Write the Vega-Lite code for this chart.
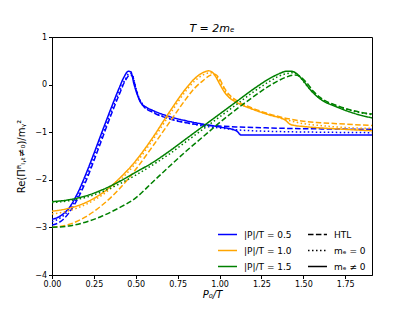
{
  "$schema": "https://vega.github.io/schema/vega-lite/v6.json",
  "width": 320,
  "height": 238,
  "autosize": "none",
  "padding": {"left": 52, "top": 37, "right": 41, "bottom": 35},
  "background": "white",
  "title": {"text": "T = 2mₑ", "fontStyle": "italic", "fontWeight": "normal", "fontSize": 11, "offset": -1, "font": "DejaVu Sans", "color": "black"},
  "config": {
    "font": "DejaVu Sans",
    "view": {"stroke": "black", "strokeWidth": 1},
    "axis": {"grid": false, "domainColor": "black", "tickColor": "black", "labelColor": "black", "titleColor": "black", "labelFontSize": 8, "titleFontSize": 10, "titleFontWeight": "normal", "tickSize": 3.5, "labelPadding": 2, "labelFlush": false}
  },
  "data": {"values": [
    {"p":"0.5","k":"mₑ ≠ 0","x":0,"y":-2.83},{"p":"0.5","k":"mₑ ≠ 0","x":0.05,"y":-2.76},{"p":"0.5","k":"mₑ ≠ 0","x":0.1,"y":-2.6},{"p":"0.5","k":"mₑ ≠ 0","x":0.15,"y":-2.3},{"p":"0.5","k":"mₑ ≠ 0","x":0.2,"y":-1.9},{"p":"0.5","k":"mₑ ≠ 0","x":0.25,"y":-1.45},{"p":"0.5","k":"mₑ ≠ 0","x":0.3,"y":-0.98},{"p":"0.5","k":"mₑ ≠ 0","x":0.35,"y":-0.52},{"p":"0.5","k":"mₑ ≠ 0","x":0.4,"y":-0.08},{"p":"0.5","k":"mₑ ≠ 0","x":0.43,"y":0.16},{"p":"0.5","k":"mₑ ≠ 0","x":0.455,"y":0.28},{"p":"0.5","k":"mₑ ≠ 0","x":0.47,"y":0.27},{"p":"0.5","k":"mₑ ≠ 0","x":0.49,"y":0.0},{"p":"0.5","k":"mₑ ≠ 0","x":0.51,"y":-0.22},{"p":"0.5","k":"mₑ ≠ 0","x":0.53,"y":-0.38},{"p":"0.5","k":"mₑ ≠ 0","x":0.56,"y":-0.47},{"p":"0.5","k":"mₑ ≠ 0","x":0.6,"y":-0.54},{"p":"0.5","k":"mₑ ≠ 0","x":0.7,"y":-0.67},{"p":"0.5","k":"mₑ ≠ 0","x":0.8,"y":-0.76},{"p":"0.5","k":"mₑ ≠ 0","x":0.9,"y":-0.83},{"p":"0.5","k":"mₑ ≠ 0","x":1.0,"y":-0.89},{"p":"0.5","k":"mₑ ≠ 0","x":1.1,"y":-0.97},{"p":"0.5","k":"mₑ ≠ 0","x":1.13,"y":-1.06},{"p":"0.5","k":"mₑ ≠ 0","x":1.3,"y":-1.06},{"p":"0.5","k":"mₑ ≠ 0","x":1.5,"y":-1.06},{"p":"0.5","k":"mₑ ≠ 0","x":1.7,"y":-1.06},{"p":"0.5","k":"mₑ ≠ 0","x":1.91,"y":-1.06},
    {"p":"0.5","k":"HTL","x":0,"y":-2.95},{"p":"0.5","k":"HTL","x":0.05,"y":-2.88},{"p":"0.5","k":"HTL","x":0.1,"y":-2.7},{"p":"0.5","k":"HTL","x":0.15,"y":-2.42},{"p":"0.5","k":"HTL","x":0.2,"y":-2.05},{"p":"0.5","k":"HTL","x":0.25,"y":-1.6},{"p":"0.5","k":"HTL","x":0.3,"y":-1.13},{"p":"0.5","k":"HTL","x":0.35,"y":-0.66},{"p":"0.5","k":"HTL","x":0.4,"y":-0.22},{"p":"0.5","k":"HTL","x":0.44,"y":0.1},{"p":"0.5","k":"HTL","x":0.465,"y":0.2},{"p":"0.5","k":"HTL","x":0.48,"y":0.18},{"p":"0.5","k":"HTL","x":0.5,"y":-0.08},{"p":"0.5","k":"HTL","x":0.52,"y":-0.3},{"p":"0.5","k":"HTL","x":0.55,"y":-0.47},{"p":"0.5","k":"HTL","x":0.6,"y":-0.58},{"p":"0.5","k":"HTL","x":0.7,"y":-0.72},{"p":"0.5","k":"HTL","x":0.8,"y":-0.8},{"p":"0.5","k":"HTL","x":0.9,"y":-0.85},{"p":"0.5","k":"HTL","x":1.0,"y":-0.87},{"p":"0.5","k":"HTL","x":1.1,"y":-0.89},{"p":"0.5","k":"HTL","x":1.2,"y":-0.9},{"p":"0.5","k":"HTL","x":1.4,"y":-0.92},{"p":"0.5","k":"HTL","x":1.6,"y":-0.93},{"p":"0.5","k":"HTL","x":1.91,"y":-0.94},
    {"p":"0.5","k":"mₑ = 0","x":0,"y":-2.88},{"p":"0.5","k":"mₑ = 0","x":0.05,"y":-2.8},{"p":"0.5","k":"mₑ = 0","x":0.1,"y":-2.64},{"p":"0.5","k":"mₑ = 0","x":0.15,"y":-2.36},{"p":"0.5","k":"mₑ = 0","x":0.2,"y":-1.98},{"p":"0.5","k":"mₑ = 0","x":0.25,"y":-1.53},{"p":"0.5","k":"mₑ = 0","x":0.3,"y":-1.06},{"p":"0.5","k":"mₑ = 0","x":0.35,"y":-0.6},{"p":"0.5","k":"mₑ = 0","x":0.4,"y":-0.16},{"p":"0.5","k":"mₑ = 0","x":0.44,"y":0.13},{"p":"0.5","k":"mₑ = 0","x":0.462,"y":0.24},{"p":"0.5","k":"mₑ = 0","x":0.48,"y":0.2},{"p":"0.5","k":"mₑ = 0","x":0.5,"y":-0.06},{"p":"0.5","k":"mₑ = 0","x":0.52,"y":-0.28},{"p":"0.5","k":"mₑ = 0","x":0.55,"y":-0.45},{"p":"0.5","k":"mₑ = 0","x":0.6,"y":-0.57},{"p":"0.5","k":"mₑ = 0","x":0.7,"y":-0.71},{"p":"0.5","k":"mₑ = 0","x":0.8,"y":-0.8},{"p":"0.5","k":"mₑ = 0","x":0.9,"y":-0.87},{"p":"0.5","k":"mₑ = 0","x":1.0,"y":-0.91},{"p":"0.5","k":"mₑ = 0","x":1.1,"y":-0.95},{"p":"0.5","k":"mₑ = 0","x":1.2,"y":-0.97},{"p":"0.5","k":"mₑ = 0","x":1.4,"y":-0.99},{"p":"0.5","k":"mₑ = 0","x":1.6,"y":-1.0},{"p":"0.5","k":"mₑ = 0","x":1.91,"y":-1.01},
    {"p":"1.0","k":"mₑ ≠ 0","x":0,"y":-2.66},{"p":"1.0","k":"mₑ ≠ 0","x":0.1,"y":-2.6},{"p":"1.0","k":"mₑ ≠ 0","x":0.2,"y":-2.48},{"p":"1.0","k":"mₑ ≠ 0","x":0.3,"y":-2.28},{"p":"1.0","k":"mₑ ≠ 0","x":0.4,"y":-1.98},{"p":"1.0","k":"mₑ ≠ 0","x":0.5,"y":-1.6},{"p":"1.0","k":"mₑ ≠ 0","x":0.6,"y":-1.12},{"p":"1.0","k":"mₑ ≠ 0","x":0.7,"y":-0.58},{"p":"1.0","k":"mₑ ≠ 0","x":0.8,"y":-0.08},{"p":"1.0","k":"mₑ ≠ 0","x":0.85,"y":0.12},{"p":"1.0","k":"mₑ ≠ 0","x":0.9,"y":0.25},{"p":"1.0","k":"mₑ ≠ 0","x":0.935,"y":0.29},{"p":"1.0","k":"mₑ ≠ 0","x":0.96,"y":0.25},{"p":"1.0","k":"mₑ ≠ 0","x":0.98,"y":0.15},{"p":"1.0","k":"mₑ ≠ 0","x":1.0,"y":0.02},{"p":"1.0","k":"mₑ ≠ 0","x":1.03,"y":-0.16},{"p":"1.0","k":"mₑ ≠ 0","x":1.06,"y":-0.28},{"p":"1.0","k":"mₑ ≠ 0","x":1.1,"y":-0.37},{"p":"1.0","k":"mₑ ≠ 0","x":1.2,"y":-0.52},{"p":"1.0","k":"mₑ ≠ 0","x":1.3,"y":-0.64},{"p":"1.0","k":"mₑ ≠ 0","x":1.39,"y":-0.74},{"p":"1.0","k":"mₑ ≠ 0","x":1.42,"y":-0.83},{"p":"1.0","k":"mₑ ≠ 0","x":1.45,"y":-0.86},{"p":"1.0","k":"mₑ ≠ 0","x":1.5,"y":-0.88},{"p":"1.0","k":"mₑ ≠ 0","x":1.6,"y":-0.91},{"p":"1.0","k":"mₑ ≠ 0","x":1.7,"y":-0.93},{"p":"1.0","k":"mₑ ≠ 0","x":1.8,"y":-0.95},{"p":"1.0","k":"mₑ ≠ 0","x":1.91,"y":-0.97},
    {"p":"1.0","k":"HTL","x":0,"y":-3.0},{"p":"1.0","k":"HTL","x":0.1,"y":-2.94},{"p":"1.0","k":"HTL","x":0.2,"y":-2.78},{"p":"1.0","k":"HTL","x":0.3,"y":-2.53},{"p":"1.0","k":"HTL","x":0.4,"y":-2.2},{"p":"1.0","k":"HTL","x":0.5,"y":-1.78},{"p":"1.0","k":"HTL","x":0.6,"y":-1.3},{"p":"1.0","k":"HTL","x":0.7,"y":-0.8},{"p":"1.0","k":"HTL","x":0.8,"y":-0.3},{"p":"1.0","k":"HTL","x":0.85,"y":-0.08},{"p":"1.0","k":"HTL","x":0.9,"y":0.08},{"p":"1.0","k":"HTL","x":0.95,"y":0.2},{"p":"1.0","k":"HTL","x":0.975,"y":0.21},{"p":"1.0","k":"HTL","x":1.0,"y":0.12},{"p":"1.0","k":"HTL","x":1.03,"y":-0.08},{"p":"1.0","k":"HTL","x":1.06,"y":-0.22},{"p":"1.0","k":"HTL","x":1.1,"y":-0.33},{"p":"1.0","k":"HTL","x":1.2,"y":-0.5},{"p":"1.0","k":"HTL","x":1.3,"y":-0.62},{"p":"1.0","k":"HTL","x":1.4,"y":-0.71},{"p":"1.0","k":"HTL","x":1.5,"y":-0.77},{"p":"1.0","k":"HTL","x":1.6,"y":-0.8},{"p":"1.0","k":"HTL","x":1.7,"y":-0.82},{"p":"1.0","k":"HTL","x":1.8,"y":-0.84},{"p":"1.0","k":"HTL","x":1.91,"y":-0.86},
    {"p":"1.0","k":"mₑ = 0","x":0,"y":-2.72},{"p":"1.0","k":"mₑ = 0","x":0.1,"y":-2.65},{"p":"1.0","k":"mₑ = 0","x":0.2,"y":-2.52},{"p":"1.0","k":"mₑ = 0","x":0.3,"y":-2.32},{"p":"1.0","k":"mₑ = 0","x":0.4,"y":-2.03},{"p":"1.0","k":"mₑ = 0","x":0.5,"y":-1.65},{"p":"1.0","k":"mₑ = 0","x":0.6,"y":-1.17},{"p":"1.0","k":"mₑ = 0","x":0.7,"y":-0.64},{"p":"1.0","k":"mₑ = 0","x":0.8,"y":-0.13},{"p":"1.0","k":"mₑ = 0","x":0.85,"y":0.07},{"p":"1.0","k":"mₑ = 0","x":0.9,"y":0.2},{"p":"1.0","k":"mₑ = 0","x":0.945,"y":0.25},{"p":"1.0","k":"mₑ = 0","x":0.97,"y":0.22},{"p":"1.0","k":"mₑ = 0","x":1.0,"y":0.08},{"p":"1.0","k":"mₑ = 0","x":1.03,"y":-0.12},{"p":"1.0","k":"mₑ = 0","x":1.06,"y":-0.26},{"p":"1.0","k":"mₑ = 0","x":1.1,"y":-0.36},{"p":"1.0","k":"mₑ = 0","x":1.2,"y":-0.52},{"p":"1.0","k":"mₑ = 0","x":1.3,"y":-0.64},{"p":"1.0","k":"mₑ = 0","x":1.4,"y":-0.74},{"p":"1.0","k":"mₑ = 0","x":1.5,"y":-0.82},{"p":"1.0","k":"mₑ = 0","x":1.6,"y":-0.86},{"p":"1.0","k":"mₑ = 0","x":1.7,"y":-0.89},{"p":"1.0","k":"mₑ = 0","x":1.8,"y":-0.91},{"p":"1.0","k":"mₑ = 0","x":1.91,"y":-0.92},
    {"p":"1.5","k":"mₑ ≠ 0","x":0,"y":-2.46},{"p":"1.5","k":"mₑ ≠ 0","x":0.1,"y":-2.42},{"p":"1.5","k":"mₑ ≠ 0","x":0.2,"y":-2.34},{"p":"1.5","k":"mₑ ≠ 0","x":0.3,"y":-2.21},{"p":"1.5","k":"mₑ ≠ 0","x":0.4,"y":-2.04},{"p":"1.5","k":"mₑ ≠ 0","x":0.5,"y":-1.84},{"p":"1.5","k":"mₑ ≠ 0","x":0.6,"y":-1.64},{"p":"1.5","k":"mₑ ≠ 0","x":0.7,"y":-1.4},{"p":"1.5","k":"mₑ ≠ 0","x":0.8,"y":-1.14},{"p":"1.5","k":"mₑ ≠ 0","x":0.9,"y":-0.88},{"p":"1.5","k":"mₑ ≠ 0","x":1.0,"y":-0.62},{"p":"1.5","k":"mₑ ≠ 0","x":1.1,"y":-0.36},{"p":"1.5","k":"mₑ ≠ 0","x":1.2,"y":-0.1},{"p":"1.5","k":"mₑ ≠ 0","x":1.3,"y":0.13},{"p":"1.5","k":"mₑ ≠ 0","x":1.35,"y":0.22},{"p":"1.5","k":"mₑ ≠ 0","x":1.4,"y":0.28},{"p":"1.5","k":"mₑ ≠ 0","x":1.43,"y":0.28},{"p":"1.5","k":"mₑ ≠ 0","x":1.46,"y":0.23},{"p":"1.5","k":"mₑ ≠ 0","x":1.5,"y":0.08},{"p":"1.5","k":"mₑ ≠ 0","x":1.55,"y":-0.14},{"p":"1.5","k":"mₑ ≠ 0","x":1.6,"y":-0.3},{"p":"1.5","k":"mₑ ≠ 0","x":1.7,"y":-0.47},{"p":"1.5","k":"mₑ ≠ 0","x":1.8,"y":-0.6},{"p":"1.5","k":"mₑ ≠ 0","x":1.91,"y":-0.7},
    {"p":"1.5","k":"HTL","x":0,"y":-3.0},{"p":"1.5","k":"HTL","x":0.1,"y":-2.97},{"p":"1.5","k":"HTL","x":0.2,"y":-2.89},{"p":"1.5","k":"HTL","x":0.3,"y":-2.76},{"p":"1.5","k":"HTL","x":0.4,"y":-2.59},{"p":"1.5","k":"HTL","x":0.5,"y":-2.38},{"p":"1.5","k":"HTL","x":0.6,"y":-2.05},{"p":"1.5","k":"HTL","x":0.7,"y":-1.72},{"p":"1.5","k":"HTL","x":0.8,"y":-1.4},{"p":"1.5","k":"HTL","x":0.9,"y":-1.1},{"p":"1.5","k":"HTL","x":1.0,"y":-0.8},{"p":"1.5","k":"HTL","x":1.1,"y":-0.52},{"p":"1.5","k":"HTL","x":1.2,"y":-0.26},{"p":"1.5","k":"HTL","x":1.3,"y":-0.02},{"p":"1.5","k":"HTL","x":1.35,"y":0.08},{"p":"1.5","k":"HTL","x":1.4,"y":0.16},{"p":"1.5","k":"HTL","x":1.45,"y":0.2},{"p":"1.5","k":"HTL","x":1.48,"y":0.17},{"p":"1.5","k":"HTL","x":1.52,"y":0.04},{"p":"1.5","k":"HTL","x":1.56,"y":-0.14},{"p":"1.5","k":"HTL","x":1.6,"y":-0.27},{"p":"1.5","k":"HTL","x":1.7,"y":-0.44},{"p":"1.5","k":"HTL","x":1.8,"y":-0.55},{"p":"1.5","k":"HTL","x":1.91,"y":-0.62},
    {"p":"1.5","k":"mₑ = 0","x":0,"y":-2.48},{"p":"1.5","k":"mₑ = 0","x":0.1,"y":-2.44},{"p":"1.5","k":"mₑ = 0","x":0.2,"y":-2.37},{"p":"1.5","k":"mₑ = 0","x":0.3,"y":-2.25},{"p":"1.5","k":"mₑ = 0","x":0.4,"y":-2.09},{"p":"1.5","k":"mₑ = 0","x":0.5,"y":-1.9},{"p":"1.5","k":"mₑ = 0","x":0.6,"y":-1.69},{"p":"1.5","k":"mₑ = 0","x":0.7,"y":-1.46},{"p":"1.5","k":"mₑ = 0","x":0.8,"y":-1.2},{"p":"1.5","k":"mₑ = 0","x":0.9,"y":-0.94},{"p":"1.5","k":"mₑ = 0","x":1.0,"y":-0.68},{"p":"1.5","k":"mₑ = 0","x":1.1,"y":-0.42},{"p":"1.5","k":"mₑ = 0","x":1.2,"y":-0.16},{"p":"1.5","k":"mₑ = 0","x":1.3,"y":0.07},{"p":"1.5","k":"mₑ = 0","x":1.35,"y":0.17},{"p":"1.5","k":"mₑ = 0","x":1.4,"y":0.23},{"p":"1.5","k":"mₑ = 0","x":1.44,"y":0.25},{"p":"1.5","k":"mₑ = 0","x":1.47,"y":0.2},{"p":"1.5","k":"mₑ = 0","x":1.5,"y":0.07},{"p":"1.5","k":"mₑ = 0","x":1.55,"y":-0.14},{"p":"1.5","k":"mₑ = 0","x":1.6,"y":-0.29},{"p":"1.5","k":"mₑ = 0","x":1.7,"y":-0.45},{"p":"1.5","k":"mₑ = 0","x":1.8,"y":-0.56},{"p":"1.5","k":"mₑ = 0","x":1.91,"y":-0.63}
  ]},
  "mark": {"type": "line", "strokeWidth": 1.5, "clip": true, "interpolate": "monotone"},
  "encoding": {
    "x": {"field": "x", "type": "quantitative", "scale": {"domain": [0, 1.91], "nice": false, "zero": false},
      "axis": {"values": [0, 0.25, 0.5, 0.75, 1.0, 1.25, 1.5, 1.75], "format": ".2f", "title": "P₀/T", "titleFontStyle": "italic", "titlePadding": 1}},
    "y": {"field": "y", "type": "quantitative", "scale": {"domain": [-4, 1], "nice": false, "zero": false},
      "axis": {"values": [-4, -3, -2, -1, 0, 1], "labelExpr": "replace(format(datum.value, 'd'), '-', '−')", "title": "Re(Πᴿₗ,ₜ≠₀)/mᵧ²", "titlePadding": 8}},
    "color": {"field": "p", "type": "nominal", "scale": {"domain": ["0.5", "1.0", "1.5"], "range": ["#0000ff", "#ffa500", "#008000"]},
      "legend": {"orient": "none", "legendX": 165, "legendY": 187, "title": null, "symbolType": "stroke", "symbolStrokeWidth": 1.5, "symbolSize": 360, "labelFontSize": 9, "labelColor": "black", "rowPadding": -1, "labelExpr": "'|P|/T = ' + datum.label", "padding": 0, "labelOffset": 6}},
    "strokeDash": {"field": "k", "type": "nominal", "scale": {"domain": ["HTL", "mₑ = 0", "mₑ ≠ 0"], "range": [[5.5, 2.4], [1.5, 2.5], [1, 0]]},
      "legend": {"orient": "none", "legendX": 255, "legendY": 187, "title": null, "symbolStrokeColor": "black", "symbolStrokeWidth": 1.5, "symbolSize": 360, "symbolType": "stroke", "labelFontSize": 9, "labelColor": "black", "rowPadding": -1, "padding": 0, "labelOffset": 6}}
  }
}
